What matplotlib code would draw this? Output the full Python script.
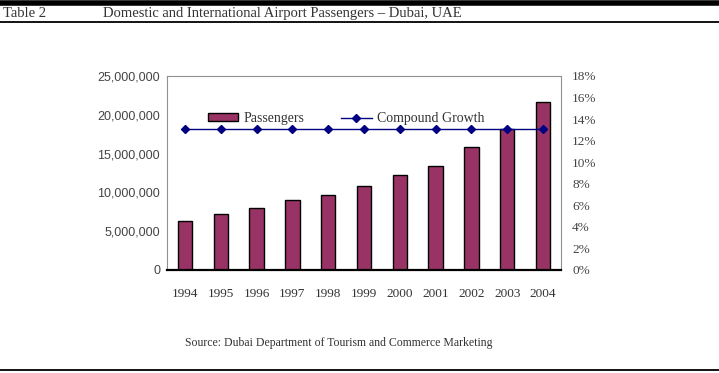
import matplotlib.pyplot as plt
from matplotlib.ticker import FuncFormatter

years = ['1994', '1995', '1996', '1997', '1998', '1999', '2000', '2001', '2002', '2003', '2004']
passengers = [6.3e6, 7.2e6, 8.0e6, 9.0e6, 9.7e6, 10.8e6, 12.3e6, 13.4e6, 15.9e6, 18.2e6, 21.6e6]
growth = [0.131] * 11

fig = plt.figure(figsize=(7.19, 3.73), dpi=100)

# header / footer rules
fig.add_artist(plt.Line2D([0, 1], [1 - 2.5 / 373, 1 - 2.5 / 373], color='black', lw=4.0))
fig.add_artist(plt.Line2D([0, 1], [1 - 22 / 373, 1 - 22 / 373], color='black', lw=1.3))
fig.add_artist(plt.Line2D([0, 1], [1 - 369.5 / 373, 1 - 369.5 / 373], color='black', lw=1.3))
fig.text(3 / 719, 1 - 13.5 / 373, 'Table 2', family='Liberation Serif', fontsize=10.5,
         color='#333333', va='center', ha='left')
fig.text(103 / 719, 1 - 13.5 / 373,
         'Domestic and International Airport Passengers \u2013 Dubai, UAE',
         family='Liberation Serif', fontsize=10.5, color='#333333', va='center', ha='left')
fig.text(185 / 719, 1 - 343 / 373,
         'Source: Dubai Department of Tourism and Commerce Marketing',
         family='Liberation Serif', fontsize=8.5, color='#333333', va='center', ha='left')

ax = fig.add_axes([167 / 719, 1 - 270 / 373, 394 / 719, 194 / 373])
x = list(range(len(years)))
bars = ax.bar(x, passengers, width=0.4, color='#993366', edgecolor='black', linewidth=1.0,
              label='Passengers', zorder=2)
ax.set_xlim(-0.5, len(years) - 0.5)
ax.set_ylim(0, 25e6)
ax.set_yticks([0, 5e6, 10e6, 15e6, 20e6, 25e6])
ax.yaxis.set_major_formatter(FuncFormatter(lambda v, p: f'{int(v):,}'))
ax.set_xticks(x)
ax.set_xticklabels(years, family='Liberation Serif', fontsize=9.5, color='#333333')
for lab in ax.get_yticklabels():
    lab.set_family('Liberation Sans')
    lab.set_fontsize(9)
    lab.set_color('#444444')
ax.tick_params(axis='both', length=0)
ax.tick_params(axis='x', pad=13)
ax.tick_params(axis='y', pad=5)
for s in ['left', 'top', 'right']:
    ax.spines[s].set_color('#909090')
    ax.spines[s].set_linewidth(0.8)
ax.spines['bottom'].set_color('black')
ax.spines['bottom'].set_linewidth(1.6)

ax2 = ax.twinx()
line, = ax2.plot(x, growth, color='#000080', lw=1.0, marker='D', markersize=4,
                 markerfacecolor='#000080', markeredgecolor='#000080', label='Compound Growth',
                 zorder=3)
ax2.set_ylim(0, 0.18)
ax2.set_yticks([i / 100 for i in range(0, 19, 2)])
ax2.yaxis.set_major_formatter(FuncFormatter(lambda v, p: f'{round(v * 100)}%'))
for lab in ax2.get_yticklabels():
    lab.set_family('Liberation Serif')
    lab.set_fontsize(9.5)
    lab.set_color('#444444')
ax2.tick_params(axis='y', length=0, pad=8)
for s in ['left', 'top', 'right', 'bottom']:
    ax2.spines[s].set_visible(False)

leg = ax2.legend([bars, line], ['Passengers', 'Compound Growth'], ncol=2, frameon=False,
                 loc='center left', bbox_to_anchor=(0.072, 0.78), handlelength=2.2,
                 handleheight=0.5, columnspacing=2.6, handletextpad=0.4,
                 prop={'family': 'Liberation Serif', 'size': 10})
for t in leg.get_texts():
    t.set_color('#333333')

fig.savefig('out.png', dpi=100)
